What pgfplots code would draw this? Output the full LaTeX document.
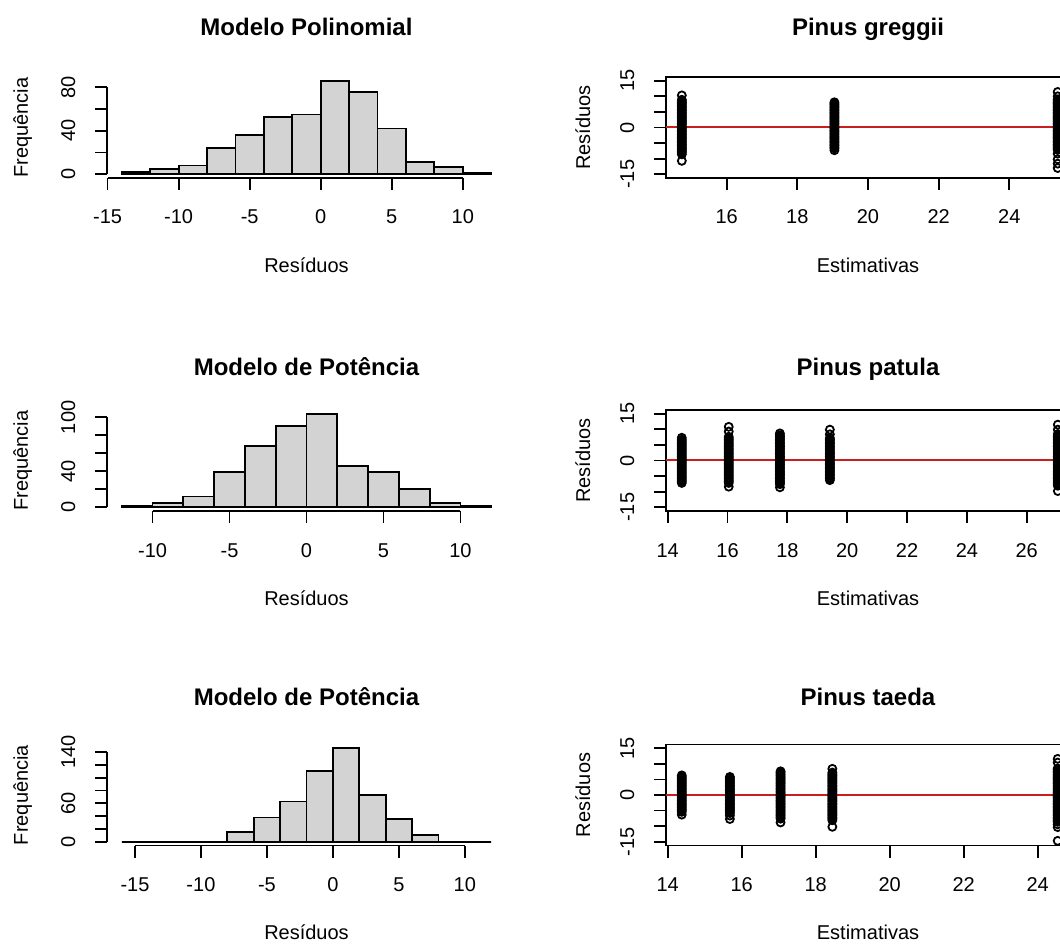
\documentclass[border=0pt]{standalone}
\usepackage{fontspec}
\setmainfont{Liberation Sans}
\usepackage{pgfplots}
\pgfplotsset{compat=1.18}

\definecolor{histfill}{RGB}{211,211,211}
\definecolor{rline}{RGB}{200,30,30}

% 1 px of the reference = 0.5pt
\pgfplotsset{
  every axis/.append style={
    scale only axis, anchor=south west, height=50.5pt,
    tick align=outside, major tick length=6pt,
    tick style={black, line width=0.9pt},
    tick label style={font=\fontsize{10}{12}\selectfont},
    label style={font=\fontsize{10}{12}\selectfont},
    title style={font=\bfseries\fontsize{12}{14}\selectfont,
      at={(axis description cs:0.5,1.411)}, anchor=base, yshift=-6pt},
    xlabel style={at={(axis description cs:0.5,-0.931)}, anchor=base},
    xticklabel style={anchor=base, yshift=-17pt},
    yticklabel style={xshift=-10pt, rotate=90, anchor=base},
  },
  histo/.style={width=199.5pt, axis x line*=bottom, axis y line*=left,
    axis line style={draw=none}, clip=false,
    ylabel={Frequência}, xlabel={Resíduos},
    ylabel style={at={(axis description cs:-0.198,0.5)}, anchor=base}},
  resid/.style={width=202pt, tick pos=left, axis line style={line width=0.9pt},
    ylabel={Resíduos}, xlabel={Estimativas},
    ymin=-16.2, ymax=16.2, ytick={-15,-10,-5,0,5,10,15},
    yticklabels={-15,,,0,,,15},
    ylabel style={at={(axis description cs:-0.188,0.5)}, anchor=base}},
  row2/.style={title style={at={(axis description cs:0.5,1.337)}}},
  row3/.style={title style={at={(axis description cs:0.5,1.391)}}},
  bars/.style={ybar interval, fill=histfill, draw=black, line width=0.9pt},
  pts/.style={only marks, mark=o, mark size=2.0pt, black, mark options={line width=0.9pt}},
  zero/.style={rline, line width=1pt},
}

\begin{document}
\begin{tikzpicture}
\useasboundingbox (0,0) rectangle (530pt,-473pt);
\clip (0,0) rectangle (530pt,-473pt);

% ---------- row 1 ----------
\begin{axis}[histo, at={(53.5pt,-89pt)},
  title={Modelo Polinomial},
  xmin=-15.04, xmax=13.04, ymin=-3.44, ymax=89.44,
  xtick={-15,-10,-5,0,5,10}, xticklabels={-15,-10,-5,0,5,10},
  ytick={0,20,40,60,80}, yticklabels={0,,40,,80}]
\addplot[bars] coordinates {(-14,2) (-12,5) (-10,8) (-8,24) (-6,36) (-4,53) (-2,55)
  (0,86) (2,76) (4,42) (6,11) (8,7) (10,1) (12,1)};
\draw[line width=0.9pt] (axis cs:-15,-3.44) -- (axis cs:10,-3.44);
\draw[line width=0.9pt] (axis cs:-15.04,0) -- (axis cs:-15.04,80);
\end{axis}

\begin{axis}[resid, at={(333pt,-89pt)},
  title={Pinus greggii},
  xmin=14.282, xmax=25.719,
  xtick={16,18,20,22,24}, xticklabels={16,18,20,22,24}]
\addplot[pts] coordinates {
(14.73,10.3) (14.73,8.9) (14.73,8.5) (14.73,8.1) (14.73,7.6) (14.73,7.2) (14.73,6.7) (14.73,6.3)
(14.73,5.8) (14.73,5.4) (14.73,4.9) (14.73,4.5) (14.73,4.0) (14.73,3.6) (14.73,3.1) (14.73,2.7)
(14.73,2.2) (14.73,1.8) (14.73,1.3) (14.73,0.9) (14.73,0.4) (14.73,0.0) (14.73,-0.4) (14.73,-0.9)
(14.73,-1.3) (14.73,-1.8) (14.73,-2.2) (14.73,-2.7) (14.73,-3.1) (14.73,-3.6) (14.73,-4.0) (14.73,-4.5)
(14.73,-4.9) (14.73,-5.4) (14.73,-5.8) (14.73,-6.3) (14.73,-6.7) (14.73,-7.2) (14.73,-7.6) (14.73,-8.1)
(14.73,-8.6) (14.73,-10.7)
(19.05,8.1) (19.05,7.6) (19.05,7.2) (19.05,6.7) (19.05,6.3) (19.05,5.8) (19.05,5.4) (19.05,4.9)
(19.05,4.5) (19.05,4.0) (19.05,3.6) (19.05,3.1) (19.05,2.7) (19.05,2.2) (19.05,1.8) (19.05,1.3)
(19.05,0.9) (19.05,0.4) (19.05,0.0) (19.05,-0.4) (19.05,-0.9) (19.05,-1.3) (19.05,-1.8) (19.05,-2.2)
(19.05,-2.7) (19.05,-3.1) (19.05,-3.6) (19.05,-4.0) (19.05,-4.5) (19.05,-4.9) (19.05,-5.4) (19.05,-5.8)
(19.05,-6.3) (19.05,-6.7) (19.05,-7.3)
(25.37,11.4) (25.37,10.0) (25.37,9.0) (25.37,8.5) (25.37,8.1) (25.37,7.6) (25.37,7.2) (25.37,6.7)
(25.37,6.3) (25.37,5.8) (25.37,5.4) (25.37,4.9) (25.37,4.5) (25.37,4.0) (25.37,3.6) (25.37,3.1)
(25.37,2.7) (25.37,2.2) (25.37,1.8) (25.37,1.3) (25.37,0.9) (25.37,0.4) (25.37,0.0) (25.37,-0.4)
(25.37,-0.9) (25.37,-1.3) (25.37,-1.8) (25.37,-2.2) (25.37,-2.7) (25.37,-3.1) (25.37,-3.6) (25.37,-4.0)
(25.37,-4.5) (25.37,-4.9) (25.37,-5.4) (25.37,-5.8) (25.37,-6.3) (25.37,-6.7) (25.37,-7.2) (25.37,-8.4)
(25.37,-10.2) (25.37,-11.6) (25.37,-13.0)
};
\addplot[zero] coordinates {(14.282,0) (25.719,0)};
\end{axis}

% ---------- row 2 ----------
\begin{axis}[histo, row2, at={(53.5pt,-255.5pt)},
  title={Modelo de Potência},
  xmin=-12.96, xmax=12.96, ymin=-4.16, ymax=108.16,
  xtick={-10,-5,0,5,10}, xticklabels={-10,-5,0,5,10},
  ytick={0,20,40,60,80,100}, yticklabels={0,,40,,,100}]
\addplot[bars] coordinates {(-12,1) (-10,5) (-8,12) (-6,39) (-4,68) (-2,90)
  (0,104) (2,46) (4,39) (6,20) (8,5) (10,1) (12,1)};
\draw[line width=0.9pt] (axis cs:-10,-4.16) -- (axis cs:10,-4.16);
\draw[line width=0.9pt] (axis cs:-12.96,0) -- (axis cs:-12.96,100);
\end{axis}

\begin{axis}[resid, row2, at={(333pt,-255.5pt)},
  title={Pinus patula},
  xmin=13.943, xmax=27.447,
  xtick={14,16,18,20,22,24,26}, xticklabels={14,16,18,20,22,24,26}]
\addplot[pts] coordinates {
(14.47,7.3) (14.47,6.7) (14.47,6.3) (14.47,5.8) (14.47,5.4) (14.47,4.9) (14.47,4.5) (14.47,4.0)
(14.47,3.6) (14.47,3.1) (14.47,2.7) (14.47,2.2) (14.47,1.8) (14.47,1.3) (14.47,0.9) (14.47,0.4)
(14.47,0.0) (14.47,-0.4) (14.47,-0.9) (14.47,-1.3) (14.47,-1.8) (14.47,-2.2) (14.47,-2.7) (14.47,-3.1)
(14.47,-3.6) (14.47,-4.0) (14.47,-4.5) (14.47,-4.9) (14.47,-5.4) (14.47,-5.8) (14.47,-6.3) (14.47,-6.7)
(14.47,-7.2)
(16.04,10.8) (16.04,9.3) (16.04,7.6) (16.04,7.2) (16.04,6.7) (16.04,6.3) (16.04,5.8) (16.04,5.4)
(16.04,4.9) (16.04,4.5) (16.04,4.0) (16.04,3.6) (16.04,3.1) (16.04,2.7) (16.04,2.2) (16.04,1.8)
(16.04,1.3) (16.04,0.9) (16.04,0.4) (16.04,0.0) (16.04,-0.4) (16.04,-0.9) (16.04,-1.3) (16.04,-1.8)
(16.04,-2.2) (16.04,-2.7) (16.04,-3.1) (16.04,-3.6) (16.04,-4.0) (16.04,-4.5) (16.04,-4.9) (16.04,-5.4)
(16.04,-5.8) (16.04,-6.3) (16.04,-6.7) (16.04,-7.2) (16.04,-8.4)
(17.75,8.7) (17.75,8.1) (17.75,7.6) (17.75,7.2) (17.75,6.7) (17.75,6.3) (17.75,5.8) (17.75,5.4)
(17.75,4.9) (17.75,4.5) (17.75,4.0) (17.75,3.6) (17.75,3.1) (17.75,2.7) (17.75,2.2) (17.75,1.8)
(17.75,1.3) (17.75,0.9) (17.75,0.4) (17.75,0.0) (17.75,-0.4) (17.75,-0.9) (17.75,-1.3) (17.75,-1.8)
(17.75,-2.2) (17.75,-2.7) (17.75,-3.1) (17.75,-3.6) (17.75,-4.0) (17.75,-4.5) (17.75,-4.9) (17.75,-5.4)
(17.75,-5.8) (17.75,-6.3) (17.75,-6.7) (17.75,-7.2) (17.75,-7.6) (17.75,-8.6)
(19.42,9.9) (19.42,8.4) (19.42,7.2) (19.42,6.7) (19.42,6.3) (19.42,5.8) (19.42,5.4) (19.42,4.9)
(19.42,4.5) (19.42,4.0) (19.42,3.6) (19.42,3.1) (19.42,2.7) (19.42,2.2) (19.42,1.8) (19.42,1.3)
(19.42,0.9) (19.42,0.4) (19.42,0.0) (19.42,-0.4) (19.42,-0.9) (19.42,-1.3) (19.42,-1.8) (19.42,-2.2)
(19.42,-2.7) (19.42,-3.1) (19.42,-3.6) (19.42,-4.0) (19.42,-4.5) (19.42,-4.9) (19.42,-5.4) (19.42,-5.8)
(19.42,-6.3)
(27.04,11.5) (27.04,9.9) (27.04,8.5) (27.04,8.1) (27.04,7.6) (27.04,7.2) (27.04,6.7) (27.04,6.3)
(27.04,5.8) (27.04,5.4) (27.04,4.9) (27.04,4.5) (27.04,4.0) (27.04,3.6) (27.04,3.1) (27.04,2.7)
(27.04,2.2) (27.04,1.8) (27.04,1.3) (27.04,0.9) (27.04,0.4) (27.04,0.0) (27.04,-0.4) (27.04,-0.9)
(27.04,-1.3) (27.04,-1.8) (27.04,-2.2) (27.04,-2.7) (27.04,-3.1) (27.04,-3.6) (27.04,-4.0) (27.04,-4.5)
(27.04,-4.9) (27.04,-5.4) (27.04,-5.8) (27.04,-6.3) (27.04,-6.7) (27.04,-7.2) (27.04,-7.6) (27.04,-8.1)
(27.04,-9.8)
};
\addplot[zero] coordinates {(13.943,0) (27.447,0)};
\end{axis}

% ---------- row 3 ----------
\begin{axis}[histo, row3, at={(53.5pt,-422.75pt)},
  title={Modelo de Potência},
  xmin=-17.12, xmax=13.12, ymin=-5.84, ymax=151.84,
  xtick={-15,-10,-5,0,5,10}, xticklabels={-15,-10,-5,0,5,10},
  ytick={0,20,40,60,80,100,120,140}, yticklabels={0,,,60,,,,140}]
\addplot[bars] coordinates {(-16,0) (-14,0) (-12,0) (-10,0) (-8,15) (-6,38) (-4,63)
  (-2,111) (0,146) (2,73) (4,35) (6,10) (8,0) (10,0) (12,0)};
\draw[line width=0.9pt] (axis cs:-15,-5.84) -- (axis cs:10,-5.84);
\draw[line width=0.9pt] (axis cs:-17.12,0) -- (axis cs:-17.12,140);
\end{axis}

\begin{axis}[resid, row3, at={(333pt,-422.75pt)},
  title={Pinus taeda},
  xmin=13.954, xmax=24.873,
  xtick={14,16,18,20,22,24}, xticklabels={14,16,18,20,22,24}]
\addplot[pts] coordinates {
(14.38,6.3) (14.38,5.8) (14.38,5.4) (14.38,4.9) (14.38,4.5) (14.38,4.0) (14.38,3.6) (14.38,3.1)
(14.38,2.7) (14.38,2.2) (14.38,1.8) (14.38,1.3) (14.38,0.9) (14.38,0.4) (14.38,0.0) (14.38,-0.4)
(14.38,-0.9) (14.38,-1.3) (14.38,-1.8) (14.38,-2.2) (14.38,-2.7) (14.38,-3.1) (14.38,-3.6) (14.38,-4.0)
(14.38,-4.5) (14.38,-4.9) (14.38,-5.4) (14.38,-6.3)
(15.68,5.8) (15.68,5.4) (15.68,4.9) (15.68,4.5) (15.68,4.0) (15.68,3.6) (15.68,3.1) (15.68,2.7)
(15.68,2.2) (15.68,1.8) (15.68,1.3) (15.68,0.9) (15.68,0.4) (15.68,0.0) (15.68,-0.4) (15.68,-0.9)
(15.68,-1.3) (15.68,-1.8) (15.68,-2.2) (15.68,-2.7) (15.68,-3.1) (15.68,-3.6) (15.68,-4.0) (15.68,-4.5)
(15.68,-4.9) (15.68,-5.4) (15.68,-5.8) (15.68,-6.6) (15.68,-7.7)
(17.05,7.6) (17.05,7.2) (17.05,6.7) (17.05,6.3) (17.05,5.8) (17.05,5.4) (17.05,4.9) (17.05,4.5)
(17.05,4.0) (17.05,3.6) (17.05,3.1) (17.05,2.7) (17.05,2.2) (17.05,1.8) (17.05,1.3) (17.05,0.9)
(17.05,0.4) (17.05,0.0) (17.05,-0.4) (17.05,-0.9) (17.05,-1.3) (17.05,-1.8) (17.05,-2.2) (17.05,-2.7)
(17.05,-3.1) (17.05,-3.6) (17.05,-4.0) (17.05,-4.5) (17.05,-4.9) (17.05,-5.4) (17.05,-5.8) (17.05,-6.3)
(17.05,-6.7) (17.05,-7.2) (17.05,-7.6) (17.05,-8.8)
(18.45,8.4) (18.45,7.2) (18.45,6.7) (18.45,6.3) (18.45,5.8) (18.45,5.4) (18.45,4.9) (18.45,4.5)
(18.45,4.0) (18.45,3.6) (18.45,3.1) (18.45,2.7) (18.45,2.2) (18.45,1.8) (18.45,1.3) (18.45,0.9)
(18.45,0.4) (18.45,0.0) (18.45,-0.4) (18.45,-0.9) (18.45,-1.3) (18.45,-1.8) (18.45,-2.2) (18.45,-2.7)
(18.45,-3.1) (18.45,-3.6) (18.45,-4.0) (18.45,-4.5) (18.45,-4.9) (18.45,-5.4) (18.45,-5.8) (18.45,-6.3)
(18.45,-6.7) (18.45,-7.2) (18.45,-7.6) (18.45,-8.1) (18.45,-10.2)
(24.54,11.6) (24.54,10.4) (24.54,8.5) (24.54,8.1) (24.54,7.6) (24.54,7.2) (24.54,6.7) (24.54,6.3)
(24.54,5.8) (24.54,5.4) (24.54,4.9) (24.54,4.5) (24.54,4.0) (24.54,3.6) (24.54,3.1) (24.54,2.7)
(24.54,2.2) (24.54,1.8) (24.54,1.3) (24.54,0.9) (24.54,0.4) (24.54,0.0) (24.54,-0.4) (24.54,-0.9)
(24.54,-1.3) (24.54,-1.8) (24.54,-2.2) (24.54,-2.7) (24.54,-3.1) (24.54,-3.6) (24.54,-4.0) (24.54,-4.5)
(24.54,-4.9) (24.54,-5.4) (24.54,-5.8) (24.54,-6.3) (24.54,-6.7) (24.54,-7.2) (24.54,-7.6) (24.54,-8.1)
(24.54,-8.6) (24.54,-9.4) (24.54,-10.3) (24.54,-14.7)
};
\addplot[zero] coordinates {(13.954,0) (24.873,0)};
\end{axis}
\end{tikzpicture}
\end{document}
